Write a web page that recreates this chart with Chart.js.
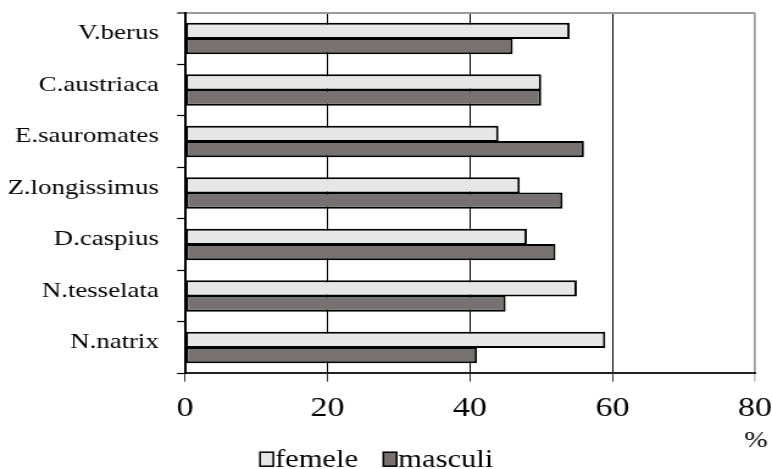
<!DOCTYPE html>
<html>
<head>
<meta charset="utf-8">
<script src="https://cdn.jsdelivr.net/npm/chart.js@4/dist/chart.umd.min.js"></script>
<style>
  html, body { margin: 0; padding: 0; background: #fff; overflow: hidden; }
  #c { display: block; }
</style>
</head>
<body>
<!-- the drawing surface is laid out narrower and widened by CSS, which gives the wide serif lettering -->
<canvas id="c" width="633" height="469" style="width:772px;height:469px"></canvas>
<script>
// Sex ratio (%) per species
const species = ['V.berus', 'C.austriaca', 'E.sauromates', 'Z.longissimus', 'D.caspius', 'N.tesselata', 'N.natrix'];
const femele  = [54, 50, 44, 47, 48, 55, 59];
const masculi = [46, 50, 56, 53, 52, 45, 41];
const seriesNames = ['femele', 'masculi'];
const xTicks = [0, 20, 40, 60, 80];
const unitLabel = '%';

const SERIF = '"Liberation Serif", "Times New Roman", serif';
const LIGHT = '#e6e6e6';
const DARK = '#777271';
const FRAME = '#9a9a9a';

// Key below the plot: small boxed swatch followed by the series name
const bottomKey = {
  id: 'bottomKey',
  afterDraw(chart) {
    const ctx = chart.ctx;
    ctx.save();
    ctx.font = '25px ' + SERIF;
    ctx.textBaseline = 'alphabetic';
    ctx.textAlign = 'left';
    let x = 213.2;
    chart.data.datasets.forEach(ds => {
      ctx.fillStyle = ds.backgroundColor;
      ctx.fillRect(x, 452.2, 10.9, 14);
      ctx.lineWidth = 1.5;
      ctx.strokeStyle = '#000';
      ctx.strokeRect(x, 452.2, 10.9, 14);
      const tx = x + 12.3;
      ctx.fillStyle = '#000';
      ctx.fillText(ds.label, tx, 467);
      x = tx + ctx.measureText(ds.label).width + 20.8;
    });
    // unit under the end of the value axis
    ctx.font = '23px ' + SERIF;
    ctx.textAlign = 'center';
    ctx.fillText(unitLabel, 619.8, 446.5);
    ctx.restore();
  }
};

const chart = new Chart(document.getElementById('c'), {
  type: 'bar',
  data: {
    labels: species,
    datasets: [
      { label: seriesNames[0], data: femele,  backgroundColor: LIGHT },
      { label: seriesNames[1], data: masculi, backgroundColor: DARK }
    ]
  },
  options: {
    indexAxis: 'y',
    responsive: false,
    devicePixelRatio: 1,
    animation: false,
    layout: { padding: { left: 0, right: 14, top: 12.7, bottom: 0 } },
    datasets: {
      bar: {
        borderColor: '#000',
        borderWidth: 2,
        borderSkipped: false,
        categoryPercentage: 0.594,
        barPercentage: 1.065
      }
    },
    plugins: {
      legend: { display: false },
      tooltip: { enabled: false },
      title: { display: false }
    },
    scales: {
      x: {
        type: 'linear',
        min: 0,
        max: 80,
        afterBuildTicks: s => { s.ticks = xTicks.map(v => ({ value: v })); },
        afterFit: s => {
          s.height = 95.7;
          s.paddingLeft = s.paddingRight = s.paddingTop = s.paddingBottom = 0;
        },
        ticks: {
          color: '#000',
          font: { family: SERIF, size: 28 },
          padding: 10.5,
          maxRotation: 0,
          autoSkip: false
        },
        grid: {
          color: c => (c.tick && c.tick.value === 80) ? FRAME : '#000',
          lineWidth: c => (c.tick && c.tick.value === 80) ? 1.7 : 1,
          tickColor: c => (c.tick && c.tick.value === 80) ? FRAME : '#333',
          tickWidth: 1,
          tickLength: 8.4
        },
        border: { display: true, color: '#222', width: 2 }
      },
      y: {
        type: 'category',
        offset: true,
        afterFit: s => {
          s.width = 151.7;
          s.paddingLeft = s.paddingRight = s.paddingTop = s.paddingBottom = 0;
        },
        ticks: {
          color: '#000',
          font: { family: SERIF, size: 22 },
          padding: 15,
          labelOffset: -5,
          autoSkip: false
        },
        grid: {
          offset: true,
          color: c => c.index === 0 ? FRAME : 'rgba(0,0,0,0)',
          lineWidth: c => c.index === 0 ? 2 : 1,
          tickColor: '#000',
          tickWidth: 1.2,
          tickLength: 6.5
        },
        border: { display: true, color: '#000', width: 2 }
      }
    }
  },
  plugins: [bottomKey]
});
// keep the widened display size
chart.canvas.style.width = '772px';
chart.canvas.style.height = '469px';
</script>
</body>
</html>
